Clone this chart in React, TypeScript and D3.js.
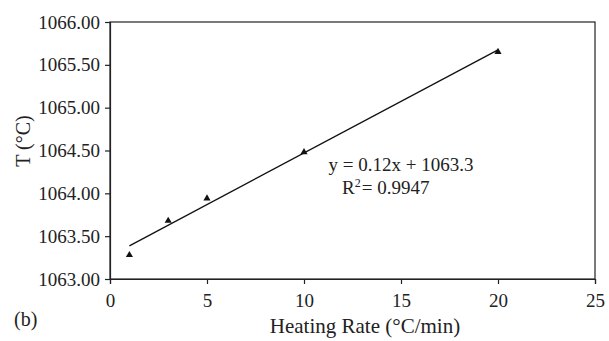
import { useEffect, useRef } from "react";
import * as d3 from "d3";

const heatingRates = [1, 3, 5, 10, 20];
const temperatures = [1063.28, 1063.68, 1063.94, 1064.48, 1065.65];
const xTicks = [0, 5, 10, 15, 20, 25];
const yTicks = [1063.0, 1063.5, 1064.0, 1064.5, 1065.0, 1065.5, 1066.0];
const equationLines = ["y = 0.12x + 1063.3", "0.9947"];

export default function App() {
  const svgRef = useRef<SVGSVGElement>(null);
  const width = 609;
  const height = 341;
  const margin = { top: 22, right: 14, bottom: 62, left: 110 };

  useEffect(() => {
    if (!svgRef.current) return;
    const svg = d3.select(svgRef.current);
    svg.selectAll("*").remove();
    const font = "'Liberation Serif', 'Times New Roman', serif";

    const x = d3.scaleLinear().domain([0, 25]).range([margin.left, width - margin.right]);
    const y = d3.scaleLinear().domain([1063, 1066]).range([height - margin.bottom, margin.top]);

    // frame
    svg.append("rect")
      .attr("x", x(0)).attr("y", y(1066))
      .attr("width", x(25) - x(0)).attr("height", y(1063) - y(1066))
      .attr("fill", "none").attr("stroke", "#222").attr("stroke-width", 1.2);

    const xAxis = svg.append("g")
      .attr("transform", `translate(0,${y(1063)})`)
      .call(d3.axisBottom(x).tickValues(xTicks).tickSize(5).tickPadding(10).tickFormat(d3.format("d")));
    const yAxis = svg.append("g")
      .attr("transform", `translate(${x(0)},0)`)
      .call(d3.axisLeft(y).tickValues(yTicks).tickSize(5).tickPadding(5).tickFormat(d3.format(".2f")));

    [xAxis, yAxis].forEach((g) => {
      g.attr("font-family", font);
      g.select(".domain").attr("stroke", "#222").attr("stroke-width", 1.2);
      g.selectAll(".tick line").attr("stroke", "#222").attr("stroke-width", 1.2);
      g.selectAll("text").attr("font-family", font).attr("font-size", 19).attr("fill", "#222");
    });

    // linear regression trendline
    const mx = d3.mean(heatingRates)!;
    const my = d3.mean(temperatures)!;
    const sxy = d3.sum(heatingRates, (v, i) => (v - mx) * (temperatures[i] - my));
    const sxx = d3.sum(heatingRates, (v) => (v - mx) ** 2);
    const slope = sxy / sxx;
    const icpt = my - slope * mx;
    const [x0, x1] = d3.extent(heatingRates) as [number, number];
    svg.append("line")
      .attr("x1", x(x0)).attr("y1", y(slope * x0 + icpt))
      .attr("x2", x(x1)).attr("y2", y(slope * x1 + icpt))
      .attr("stroke", "#111").attr("stroke-width", 1.3);

    // markers
    svg.selectAll(".pt")
      .data(heatingRates)
      .join("path")
      .attr("class", "pt")
      .attr("transform", (d, i) => `translate(${x(d)},${y(temperatures[i])})`)
      .attr("d", d3.symbol(d3.symbolTriangle, 22)())
      .attr("fill", "#111");

    // equation
    svg.append("text")
      .attr("x", 401).attr("y", 171)
      .attr("text-anchor", "middle")
      .attr("font-family", font).attr("font-size", 19).attr("fill", "#222")
      .text(equationLines[0]);
    const r2 = svg.append("text")
      .attr("x", 342).attr("y", 194)
      .attr("font-family", font).attr("font-size", 19).attr("fill", "#222");
    r2.append("tspan").text("R");
    r2.append("tspan").attr("dy", -7).attr("font-size", 12).text("2");
    r2.append("tspan").attr("dy", 7).attr("dx", 1).text("= " + equationLines[1]);

    // axis titles
    svg.append("text")
      .attr("x", 365).attr("y", 333)
      .attr("text-anchor", "middle")
      .attr("font-family", font).attr("font-size", 21).attr("fill", "#222")
      .text("Heating Rate (°C/min)");
    svg.append("text")
      .attr("transform", `translate(30,141) rotate(-90)`)
      .attr("text-anchor", "middle")
      .attr("font-family", font).attr("font-size", 20).attr("fill", "#222")
      .text("T (°C)");
    svg.append("text")
      .attr("x", 14).attr("y", 326)
      .attr("font-family", font).attr("font-size", 20).attr("fill", "#222")
      .text("(b)");
  }, []);

  return (
    <svg
      ref={svgRef}
      width={width}
      height={height}
      style={{ position: "absolute", left: 0, top: 0, background: "#fff" }}
    />
  );
}
